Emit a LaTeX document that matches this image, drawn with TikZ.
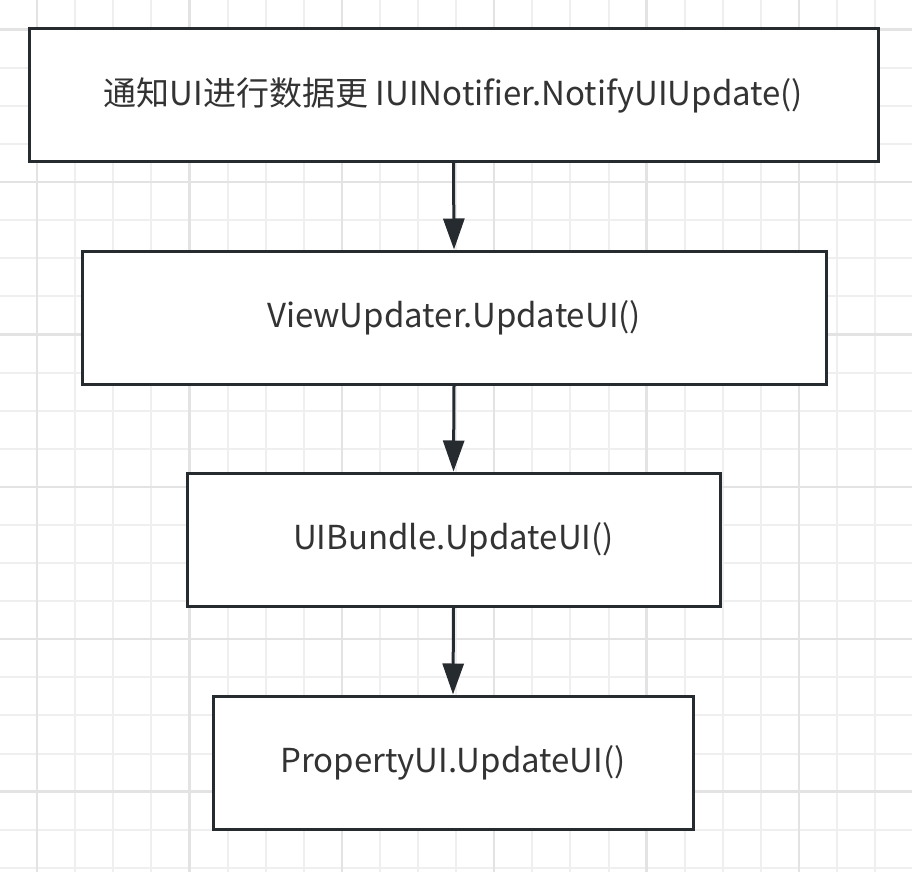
\documentclass[tikz,border=0pt]{standalone}
\usepackage{fontspec}
\setmainfont{Noto Sans CJK SC}
\usepackage{xcolor}
\usetikzlibrary{arrows.meta}
\definecolor{gridminor}{HTML}{EFEFEF}
\definecolor{gridmajor}{HTML}{E3E3E3}
\definecolor{edge}{HTML}{262B30}
\definecolor{txt}{HTML}{333333}
\tikzset{
  callbox/.style={draw=edge, line width=3pt, fill=white, text=txt,
    font=\fontsize{33}{40}\selectfont, inner sep=0pt},
  callarrow/.style={draw=edge, line width=3pt,
    -{Triangle[length=31pt,width=21pt]}}
}

\begin{document}
\begin{tikzpicture}[x=1pt, y=-1pt]
  \useasboundingbox[fill=white] (0,0) rectangle (912,872);
  % background grid
  \foreach \i in {0,...,23} {
    \pgfmathsetmacro{\gx}{37+38.1*\i}
    \draw[gridminor, line width=2pt] (\gx,0) -- (\gx,872);
  }
  \foreach \j in {0,...,22} {
    \pgfmathsetmacro{\gy}{29.6+38.1*\j}
    \draw[gridminor, line width=2pt] (0,\gy) -- (912,\gy);
  }
  \foreach \i in {0,...,5} {
    \draw[gridmajor, line width=2.5pt] (37+152.4*\i,0) -- (37+152.4*\i,872);
    \draw[gridmajor, line width=2.5pt] (0,29.6+152.4*\i) -- (912,29.6+152.4*\i);
  }

  \node[callbox, minimum width=849pt, minimum height=133pt] (notify) at (453.5,95) {\raisebox{-2pt}{通知UI进行数据更 IUINotifier.NotifyUIUpdate()}};
  \node[callbox, minimum width=744pt, minimum height=133pt] (view) at (454,317.5) {\raisebox{-2pt}{ViewUpdater.UpdateUI()}};
  \node[callbox, minimum width=533pt, minimum height=133pt] (bundle) at (453.5,539.5) {\raisebox{-2pt}{UIBundle.UpdateUI()}};
  \node[callbox, minimum width=480pt, minimum height=133pt] (prop) at (453,762.5) {\raisebox{-2pt}{PropertyUI.UpdateUI()}};

  \draw[callarrow] (notify.south) -- (view.north);
  \draw[callarrow] (view.south) -- (bundle.north);
  \draw[callarrow] (bundle.south) -- (prop.north);
\end{tikzpicture}
\end{document}
